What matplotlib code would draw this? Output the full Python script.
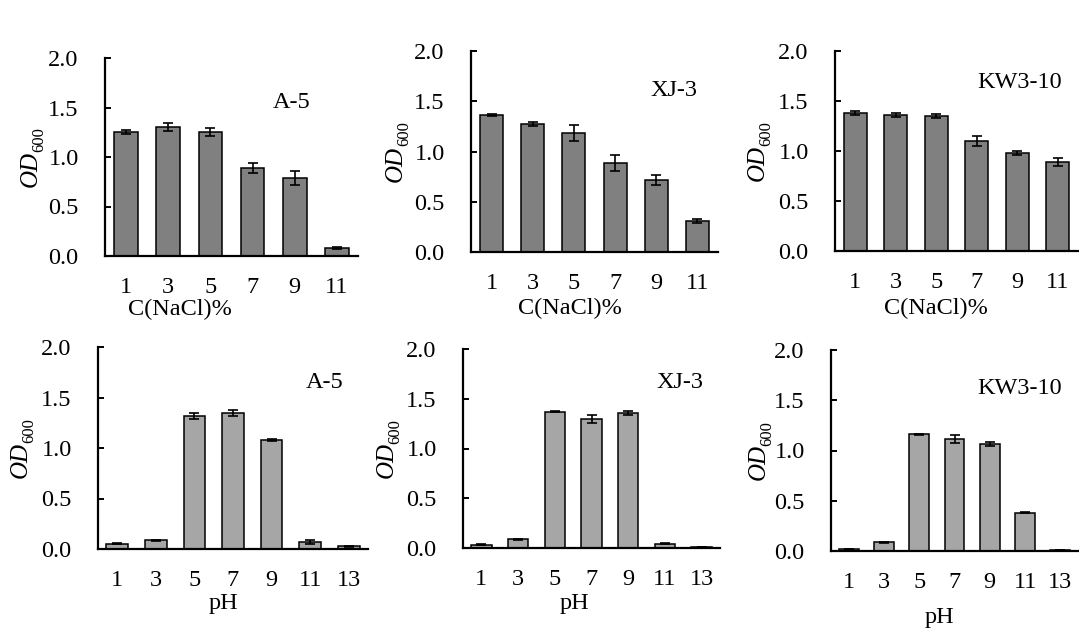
import matplotlib
matplotlib.use("Agg")
import matplotlib.pyplot as plt
import matplotlib.transforms as mtransforms
import numpy as np

plt.rcParams['font.family'] = ['Liberation Serif', 'DejaVu Serif']

# salt tolerance, C(NaCl)%
nacl = ['1', '3', '5', '7', '9', '11']
nacl_a5 = [1.25, 1.30, 1.25, 0.89, 0.79, 0.08]
nacl_a5_err = [0.02, 0.04, 0.04, 0.05, 0.07, 0.01]
nacl_xj3 = [1.36, 1.27, 1.18, 0.89, 0.72, 0.31]
nacl_xj3_err = [0.01, 0.02, 0.08, 0.08, 0.05, 0.02]
nacl_kw = [1.38, 1.36, 1.35, 1.10, 0.98, 0.89]
nacl_kw_err = [0.02, 0.02, 0.02, 0.05, 0.02, 0.04]

# pH tolerance
ph = ['1', '3', '5', '7', '9', '11', '13']
ph_a5 = [0.05, 0.085, 1.32, 1.35, 1.08, 0.07, 0.025]
ph_a5_err = [0.005, 0.005, 0.03, 0.03, 0.01, 0.02, 0.005]
ph_xj3 = [0.035, 0.09, 1.37, 1.30, 1.36, 0.045, 0.013]
ph_xj3_err = [0.005, 0.005, 0.005, 0.04, 0.02, 0.005, 0.0]
ph_kw = [0.015, 0.085, 1.16, 1.11, 1.06, 0.38, 0.013]
ph_kw_err = [0.0, 0.005, 0.005, 0.04, 0.02, 0.005, 0.0]

W, H = 1079, 630
fs = 17.5
fig = plt.figure(figsize=(W/100, H/100), dpi=100)

def px_axes(l, r, t, b):
    return fig.add_axes([l/W, 1-b/H, (r-l)/W, (b-t)/H])

panels = [
    # (box l,r,t,b), cats, vals, errs, color, name, name pos, xlabel, xlabel pos, ylabel offset
    ((105, 358, 58, 256), nacl, nacl_a5, nacl_a5_err, '#808080', 'A-5', (292, 102), 'C(NaCl)%', (180, 309), -68),
    ((471, 718, 51, 252), nacl, nacl_xj3, nacl_xj3_err, '#808080', 'XJ-3', (674, 90), 'C(NaCl)%', (570, 308), -69),
    ((835, 1078, 51, 251), nacl, nacl_kw, nacl_kw_err, '#808080', 'KW3-10', (1020, 83), 'C(NaCl)%', (936, 308), -71),
    ((98, 368, 347, 549), ph, ph_a5, ph_a5_err, '#a6a6a6', 'A-5', (325, 383), 'pH', (223, 603), -71),
    ((463, 720, 349, 548), ph, ph_xj3, ph_xj3_err, '#a6a6a6', 'XJ-3', (680, 383), 'pH', (574, 603), -70),
    ((831, 1078, 350, 551), ph, ph_kw, ph_kw_err, '#a6a6a6', 'KW3-10', (1020, 388), 'pH', (939, 617), -66),
]

for box, cats, vals, errs, col, name, npos, xlab, xpos, yoff in panels:
    ax = px_axes(*box)
    x = np.arange(len(cats))
    ax.bar(x, vals, width=0.56, color=col, edgecolor='black', linewidth=1.1, zorder=2)
    ax.errorbar(x, vals, yerr=errs, fmt='none', ecolor='black', elinewidth=1.2,
                capsize=3.6, capthick=1.2, zorder=3)
    ax.set_xlim(-0.5, len(cats) - 0.5)
    ax.set_ylim(0, 2.0)
    ax.set_yticks([0, 0.5, 1.0, 1.5, 2.0])
    ax.set_yticklabels(['0.0', '0.5', '1.0', '1.5', '2.0'])
    ax.set_xticks(x)
    ax.set_xticklabels(cats)
    for s in ['top', 'right']:
        ax.spines[s].set_visible(False)
    for s in ['left', 'bottom']:
        ax.spines[s].set_linewidth(1.6)
    ax.tick_params(axis='y', direction='in', length=4.5, width=1.4, pad=19, labelsize=fs)
    ax.tick_params(axis='x', length=0, pad=15, labelsize=fs)

    # OD600 label: italic OD with a roman subscript, both rotated
    t_od = mtransforms.offset_copy(ax.transAxes, fig=fig, x=yoff, y=6, units='dots')
    ax.text(0, 0.5, 'OD', transform=t_od, rotation=90, rotation_mode='anchor',
            ha='right', va='baseline', fontsize=18, fontstyle='italic', clip_on=False)
    t_sub = mtransforms.offset_copy(ax.transAxes, fig=fig, x=yoff + 6, y=5, units='dots')
    ax.text(0, 0.5, '600', transform=t_sub, rotation=90, rotation_mode='anchor',
            ha='left', va='baseline', fontsize=12, clip_on=False)

    fig.text(npos[0]/W, 1-npos[1]/H, name, ha='center', va='center', fontsize=fs)
    fig.text(xpos[0]/W, 1-xpos[1]/H, xlab, ha='center', va='center', fontsize=fs)

fig.savefig('out.png', dpi=100)
